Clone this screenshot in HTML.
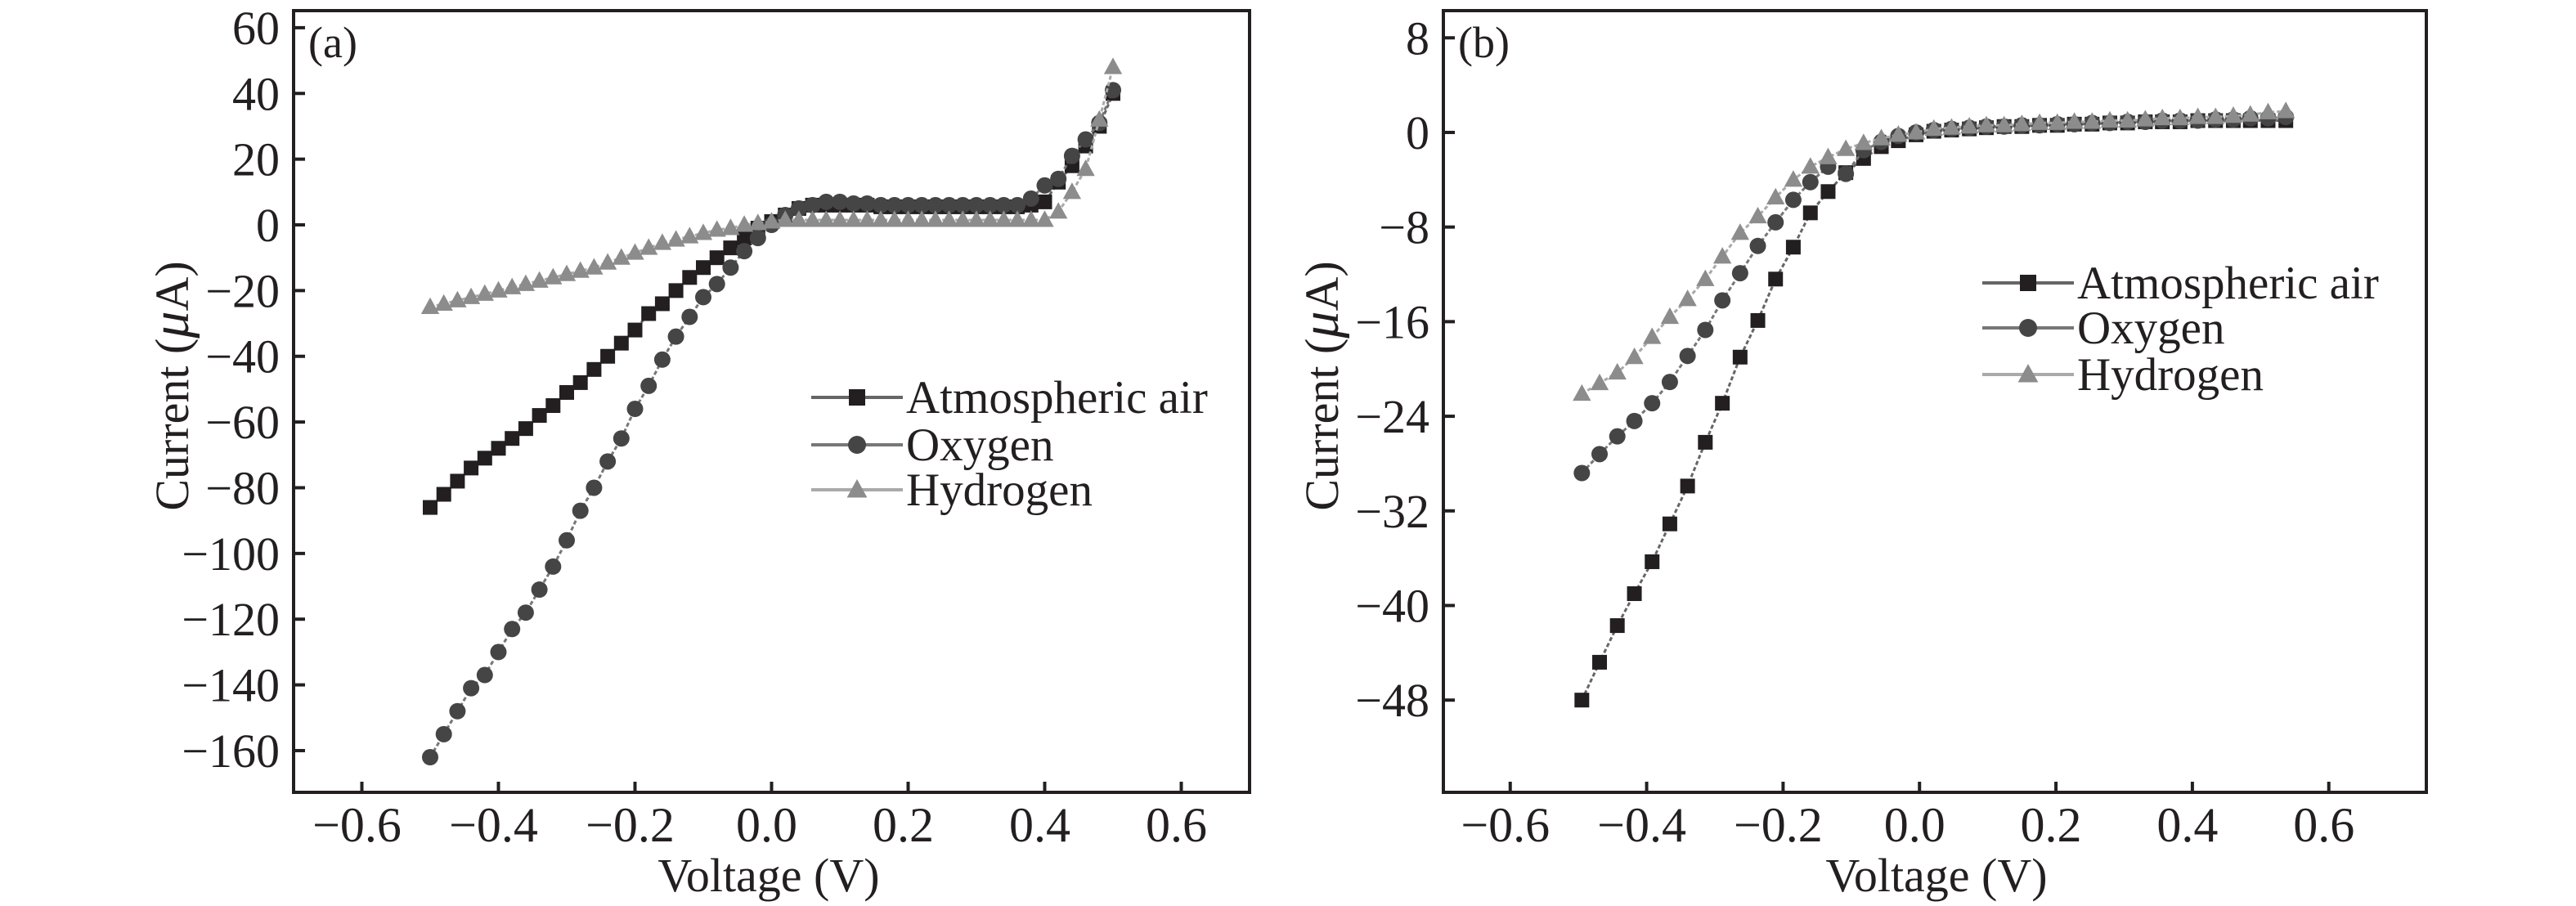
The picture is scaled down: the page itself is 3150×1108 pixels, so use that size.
<!DOCTYPE html>
<html><head><meta charset="utf-8">
<style>
html,body{margin:0;padding:0;background:#fff;}
svg{display:block;}
text{font-family:"Liberation Serif",serif;fill:#231f20;}
</style></head>
<body>
<svg id="fig" width="3150" height="1108" viewBox="0 0 3150 1108" xmlns="http://www.w3.org/2000/svg"></svg>
<script>
// ---- Panel (a) data ----
const aVolt = [-0.5,-0.48,-0.46,-0.44,-0.42,-0.40,-0.38,-0.36,-0.34,-0.32,-0.30,-0.28,-0.26,-0.24,-0.22,-0.20,-0.18,-0.16,-0.14,-0.12,-0.10,-0.08,-0.06,-0.04,-0.02,0,0.02,0.04,0.06,0.08,0.10,0.12,0.14,0.16,0.18,0.20,0.22,0.24,0.26,0.28,0.30,0.32,0.34,0.36,0.38,0.40,0.42,0.44,0.46,0.48,0.50];
const aAir = [-86,-82,-78,-74,-71,-68,-65,-62,-58,-55,-51,-48,-44,-40,-36,-32,-27,-24,-20,-16,-13,-10,-7,-4,-1,1,3,5,6,6,6,6,6,5.5,5.5,5.5,5.5,5.5,5.5,5.5,5.5,5.5,5.5,5.5,6,7,13,18,24,30,40];
const aOxy = [-162,-155,-148,-141,-137,-130,-123,-118,-111,-104,-96,-87,-80,-72,-65,-56,-49,-41,-34,-28,-22,-18,-13,-8,-4,0,3,5,6,7,7,6.5,6.5,6,6,6,6,6,6,6,6,6,6,6,8,12,14,21,26,31,41];
const aHyd = [-25,-24,-23,-22,-21,-20,-19,-18,-17,-16,-15,-14,-13,-11.5,-10,-8.5,-7,-5.5,-4.5,-3.5,-2.5,-1.5,-1,0,0.5,1,1.5,1.5,1.5,1.5,1.5,1.5,1.5,1.5,1.5,1.5,1.5,1.5,1.5,1.5,1.5,1.5,1.5,1.5,1.5,1.5,4,10,17,32,48];
const aXTicks = [-0.6,-0.4,-0.2,0.0,0.2,0.4,0.6];
const aYTicks = [60,40,20,0,-20,-40,-60,-80,-100,-120,-140,-160];
// ---- Panel (b) data ----
const bVolt = [-0.495,-0.469,-0.443,-0.418,-0.392,-0.366,-0.340,-0.314,-0.289,-0.263,-0.237,-0.211,-0.185,-0.160,-0.134,-0.108,-0.082,-0.056,-0.031,-0.005,0.021,0.047,0.073,0.098,0.124,0.150,0.176,0.202,0.227,0.253,0.279,0.305,0.331,0.356,0.382,0.408,0.434,0.460,0.485,0.511,0.537];
const bAir = [-48,-44.8,-41.7,-39,-36.3,-33.1,-29.9,-26.2,-22.9,-19,-15.9,-12.4,-9.7,-6.8,-5,-3.4,-2.2,-1.2,-0.7,-0.2,0.1,0.2,0.3,0.4,0.5,0.5,0.6,0.6,0.7,0.7,0.8,0.8,0.9,0.9,0.9,1.0,1.0,1.0,1.0,1.0,1.0];
const bOxy = [-28.8,-27.2,-25.7,-24.4,-22.9,-21.1,-18.9,-16.7,-14.2,-11.9,-9.6,-7.6,-5.7,-4.2,-2.9,-3.5,-1.5,-0.8,-0.3,0,0.2,0.3,0.4,0.5,0.5,0.6,0.6,0.7,0.7,0.8,0.8,0.9,0.9,1.0,1.0,1.0,1.1,1.1,1.2,1.2,1.3];
const bHyd = [-22.1,-21.2,-20.3,-19,-17.3,-15.6,-14.1,-12.4,-10.5,-8.5,-7.1,-5.5,-4,-2.9,-2.1,-1.4,-0.9,-0.5,-0.2,0,0.3,0.4,0.5,0.6,0.6,0.7,0.8,0.8,0.9,0.9,1.0,1.0,1.1,1.2,1.2,1.3,1.3,1.4,1.5,1.7,1.8];
const bXTicks = [-0.6,-0.4,-0.2,0.0,0.2,0.4,0.6];
const bYTicks = [8,0,-8,-16,-24,-32,-40,-48];
const legendLabels = ["Atmospheric air","Oxygen","Hydrogen"];

const NS = "http://www.w3.org/2000/svg";
const svg = document.getElementById('fig');
function mk(tag, attrs, parent){const e=document.createElementNS(NS,tag);for(const k in attrs)e.setAttribute(k,attrs[k]);(parent||svg).appendChild(e);return e;}
function fmtX(v){const s=Math.abs(v).toFixed(1);return v<-1e-9?'\u2212'+s:s;}
function fmtY(v){return v<0?'\u2212'+Math.abs(v):String(v);}

function marker(g, kind, x, y, s){
  let e;
  if(kind==='sq'){e=mk('rect',{x:x-s/2,y:y-s/2,width:s,height:s,fill:'#231f20'},g);}
  else if(kind==='ci'){e=mk('circle',{cx:x,cy:y,r:s/2+1,fill:'#454545'},g);}
  else {const h=s*1.05;e=mk('polygon',{points:`${x},${y-h*0.62} ${x-s*0.62},${y+h*0.45} ${x+s*0.62},${y+h*0.45}`,fill:'#8c8c8c'},g);}
  return e;
}

function panel(cfg){
  const g = mk('g',{});
  
  
  const {L,R,T,B,x0,x1,y0,y1} = cfg;
  const sx = v => L + (v-x0)/(x1-x0)*(R-L);
  const sy = v => B - (v-y0)/(y1-y0)*(B-T);
  const kinds=['sq','ci','tr'], lineCols=['#666','#777','#aaa'];
  cfg.series.forEach((ys,si)=>{
    const sg = mk('g',{},g);
    
    
    const pts = cfg.volt.map((v,i)=>sx(v)+','+sy(ys[i])).join(' ');
    const pl = mk('polyline',{points:pts,fill:'none',stroke:lineCols[si],'stroke-width':3,'stroke-dasharray':'5,3'},sg);
    
    
    cfg.volt.forEach((v,i)=>{
      const m = marker(sg,kinds[si],sx(v),sy(ys[i]),18);
      
      
    });
  });
  const fr = mk('rect',{x:L,y:T,width:R-L,height:B-T,fill:'none',stroke:'#231f20','stroke-width':4},g);
  
  
  cfg.xTicks.forEach(v=>{
    const x=sx(v);
    const t=mk('line',{x1:x,x2:x,y1:B,y2:B-13,stroke:'#231f20','stroke-width':4},g);
    
    
    const tx=mk('text',{x:x-6,y:B+60,'font-size':60,'text-anchor':'middle'},g);
    tx.textContent=fmtX(v);
    
    
  });
  cfg.yTicks.forEach(v=>{
    const y=sy(v);
    const t=mk('line',{x1:L,x2:L+14,y1:y,y2:y,stroke:'#231f20','stroke-width':4},g);
    
    
    const tx=mk('text',{x:L-17,y:y+20,'font-size':58,'text-anchor':'end'},g);
    tx.textContent=fmtY(v);
    
    
  });
  const pl=mk('text',{x:L+18,y:T+57,'font-size':54},g);
  pl.textContent=cfg.label;
  
  
  const xt=mk('text',{x:cfg.xtX,y:1090,'font-size':58,'text-anchor':'middle'},g);
  xt.textContent='Voltage (V)';
  
  
  const yt=mk('text',{x:0,y:0,'font-size':58,'text-anchor':'middle',transform:`translate(${cfg.ytX},472) rotate(-90)`},g);
  yt.innerHTML='Current (<tspan font-style="italic" font-size="66">\u03bc</tspan>A)';
  
  
  const lg=mk('g',{},g);
  
  
  legendLabels.forEach((lab,i)=>{
    const y=cfg.legY[i];
    const e=mk('g',{},lg);
    
    
    mk('line',{x1:cfg.legX,x2:cfg.legX+112,y1:y,y2:y,stroke:lineCols[i],'stroke-width':4},e);
    marker(e,kinds[i],cfg.legX+56,y,20);
    const t=mk('text',{x:cfg.legX+116,y:y+19,'font-size':57},e);
    t.textContent=lab;
  });
}

panel({name:'panel-a',L:359,R:1528,T:13,B:969,x0:-0.7,x1:0.7,y0:-172.7,y1:65.2,
  volt:aVolt,series:[aAir,aOxy,aHyd],seriesNames:['series-atmospheric-air','series-oxygen','series-hydrogen'],
  xTicks:aXTicks,yTicks:aYTicks,label:'(a)',xtX:940,ytX:230,legX:992,legY:[486,544,599]});
panel({name:'panel-b',L:1765,R:2967,T:13,B:969,x0:-0.698,x1:0.743,y0:-55.8,y1:10.3,
  volt:bVolt,series:[bAir,bOxy,bHyd],seriesNames:['series-atmospheric-air','series-oxygen','series-hydrogen'],
  xTicks:bXTicks,yTicks:bYTicks,label:'(b)',xtX:2368,ytX:1636,legX:2424,legY:[346,401,458]});
</script>
</body></html>
